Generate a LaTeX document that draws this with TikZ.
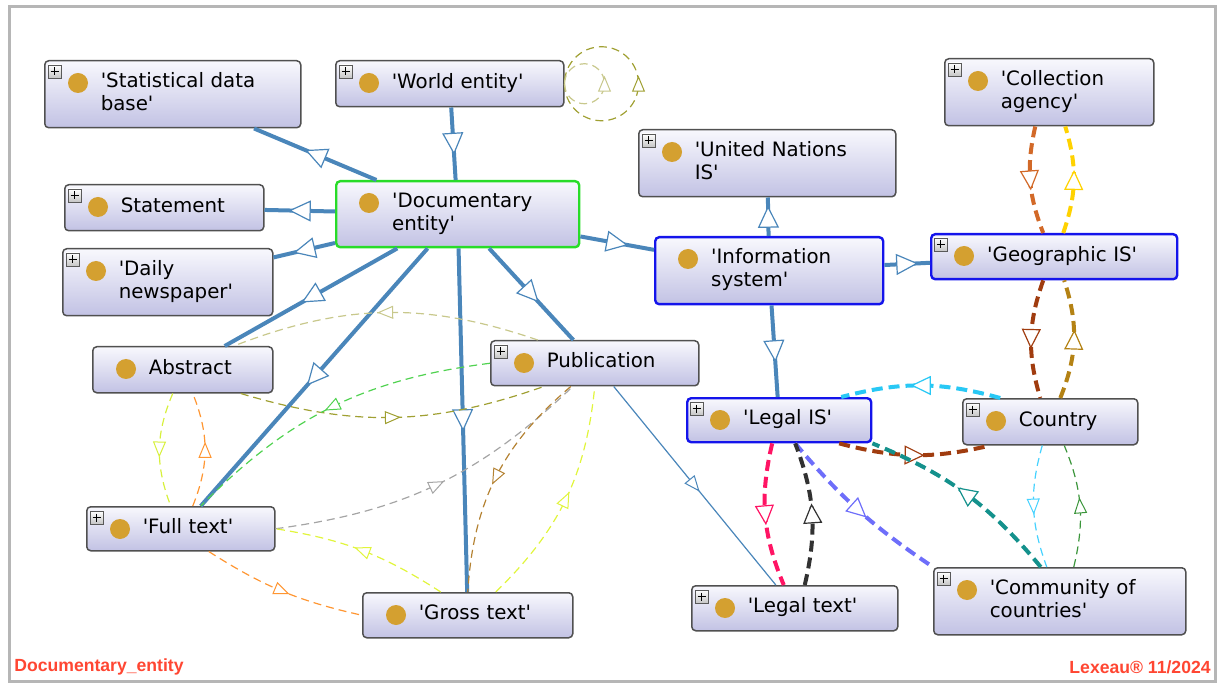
\documentclass[tikz,border=0pt]{standalone}
\usepackage{fontspec}
\newfontfamily\clsfam{DejaVu Sans}
\newfontfamily\footfam{Liberation Sans}
\usetikzlibrary{arrows.meta, decorations.markings}
\definecolor{clsedge}{RGB}{80,80,80}
\definecolor{clstop}{RGB}{248,248,253}
\definecolor{clsbot}{RGB}{194,194,228}
\definecolor{selgreen}{RGB}{40,220,40}
\definecolor{selblue}{RGB}{20,20,235}
\definecolor{dotcol}{RGB}{212,160,48}
\definecolor{isacol}{RGB}{74,134,186}
\definecolor{framecol}{RGB}{182,182,182}
\definecolor{footcol}{RGB}{255,70,50}
\definecolor{ygreen}{RGB}{215,240,60}
\definecolor{lorange}{RGB}{255,150,50}
\definecolor{khaki}{RGB}{200,200,140}
\definecolor{olivec}{RGB}{160,160,50}
\definecolor{lgreen}{RGB}{80,210,80}
\definecolor{lgray}{RGB}{165,165,165}
\definecolor{lyellow}{RGB}{225,245,60}
\definecolor{lbrown}{RGB}{180,130,50}
\definecolor{corange}{RGB}{210,105,40}
\definecolor{cgold}{RGB}{255,210,0}
\definecolor{rbrown}{RGB}{160,60,15}
\definecolor{ochre}{RGB}{180,130,20}
\definecolor{cyanc}{RGB}{40,200,245}
\definecolor{tealc}{RGB}{20,145,140}
\definecolor{slatec}{RGB}{110,110,250}
\definecolor{pinkc}{RGB}{255,20,100}
\definecolor{dgray}{RGB}{50,50,50}
\definecolor{lcyan}{RGB}{70,210,255}
\definecolor{dgreen}{RGB}{60,150,60}
\newcommand\cl[1]{\begin{tabular}{@{\hspace{28pt}}l@{}}#1\end{tabular}}

\begin{document}
\begin{tikzpicture}[x=0.5pt, y=-0.5pt,
  cls/.style={draw=clsedge, line width=0.75pt, rounded corners=2pt, top color=clstop, bottom color=clsbot, anchor=north west, align=left, inner xsep=0pt, font=\clsfam\fontsize{9.9}{11.5}\selectfont},
  docsel/.style={cls, draw=selgreen, line width=1.2pt},
  issel/.style={cls, draw=selblue, line width=1.2pt},
  midtip/.style 2 args={postaction={decorate}, decoration={markings, mark=at position 0.5 with {\pgfsetdash{}{0pt}\pgftransformxshift{#1}\arrow{#2}}}},
  isa/.style={draw=isacol, line width=2pt, midtip={5.5pt}{Triangle[length=11pt, width=10.5pt, fill=white, line width=0.6pt]}},
  isathin/.style={draw=isacol, line width=0.6pt, midtip={4pt}{Triangle[length=8pt, width=6.5pt, fill=white, line width=0.5pt]}},
  rel/.style={draw=#1, line width=0.6pt, dash pattern=on 4pt off 2.5pt, midtip={4pt}{Triangle[length=8pt, width=6.5pt, fill=white, line width=0.5pt]}},
  relb/.style={draw=#1, line width=2pt, dash pattern=on 5.5pt off 3pt, midtip={5pt}{Triangle[length=10pt, width=9.5pt, fill=white, line width=0.6pt]}},
  plusfr/.style={draw=gray!70!black, line width=0.4pt, top color=white, bottom color=gray!45},
  plussg/.style={draw=black, line width=0.5pt},
  footer/.style={text=footcol, font=\footfam\bfseries\fontsize{8.8}{10}\selectfont, inner sep=0pt}]
\useasboundingbox (0,0) rectangle (1218,683);
\draw[framecol, line width=1.5pt] (9,7) rectangle (1215,681);

% classes
\node[cls, text width=128pt, minimum height=33.5pt] (stat) at (44,60) {\cl{'Statistical data\\base'}};
\node[cls, text width=114pt, minimum height=23pt] (world) at (335,60) {\cl{'World entity'}};
\node[docsel, text width=121.5pt, minimum height=33pt] (doc) at (335,180) {\cl{'Documentary\\entity'}};
\node[cls, text width=99.5pt, minimum height=23pt] (stmt) at (64,184) {\cl{Statement}};
\node[cls, text width=105pt, minimum height=33.5pt] (daily) at (62,248) {\cl{'Daily\\newspaper'}};
\node[cls, text width=90pt, minimum height=23pt] (abstr) at (92,346) {\cl{Abstract}};
\node[cls, text width=104pt, minimum height=22.5pt] (pub) at (490,340) {\cl{Publication}};
\node[cls, text width=94pt, minimum height=22pt] (full) at (86,506) {\cl{'Full text'}};
\node[cls, text width=105pt, minimum height=22.5pt] (gross) at (362,592) {\cl{'Gross text'}};
\node[cls, text width=128.5pt, minimum height=33.5pt] (un) at (638,129) {\cl{'United Nations\\IS'}};
\node[issel, text width=114pt, minimum height=33.5pt] (info) at (654,236) {\cl{'Information\\system'}};
\node[issel, text width=123pt, minimum height=22.5pt] (geo) at (930,233) {\cl{'Geographic IS'}};
\node[cls, text width=104.5pt, minimum height=33.5pt] (coll) at (944,58) {\cl{'Collection\\agency'}};
\node[issel, text width=92pt, minimum height=22pt] (legal) at (686,397) {\cl{'Legal IS'}};
\node[cls, text width=87.5pt, minimum height=23pt] (country) at (962,398) {\cl{Country}};
\node[cls, text width=103pt, minimum height=22.5pt] (ltext) at (691,585) {\cl{'Legal text'}};
\node[cls, text width=126pt, minimum height=33.5pt] (comm) at (933,567) {\cl{'Community of\\countries'}};

\foreach \n in {stat,world,doc,stmt,daily,abstr,pub,full,gross,un,info,geo,coll,legal,country,ltext,comm}
  \fill[dotcol] ([shift={(17pt,-11.5pt)}]\n.north west) circle (5pt);
\foreach \n in {stat,world,stmt,daily,pub,full,un,geo,coll,legal,country,ltext,comm} {
  \draw[plusfr] ([shift={(2pt,-2.5pt)}]\n.north west) rectangle ++(6.5pt,-6.5pt);
  \draw[plussg] ([shift={(3.25pt,-5.75pt)}]\n.north west) -- ++(4pt,0pt);
  \draw[plussg] ([shift={(5.25pt,-3.75pt)}]\n.north west) -- ++(0pt,-4pt);
}

% subclass links
\draw[isa] (world) -- (doc);
\draw[isa] (doc) -- (stat);
\draw[isa] (doc) -- (stmt);
\draw[isa] (doc) -- (daily);
\draw[isa] (doc) -- (abstr);
\draw[isa] (doc) -- (full);
\draw[isa] (doc) -- (gross);
\draw[isa] (doc) -- (pub);
\draw[isa] (doc) -- (info);
\draw[isa] (info) -- (un);
\draw[isa] (info) -- (geo);
\draw[isa] (info) -- (legal);
\draw[isathin] (pub) -- (ltext);

% self loops
\draw[rel=olivec] (world.east) arc[start angle=-180, end angle=180, radius=18.5pt];
\draw[rel=khaki] (world.east) arc[start angle=-180, end angle=180, radius=10pt];

% documents
\draw[rel=ygreen] ([xshift=-5pt]abstr.south) to[bend right=22] ([xshift=-5pt]full.north);
\draw[rel=lorange] ([xshift=6pt]full.north) to[bend right=22] ([xshift=5pt]abstr.south);
\draw[rel=khaki] ([xshift=-28.5pt]pub.north) to[bend right=20] ([xshift=25.5pt]abstr.north);
\draw[rel=olivec] ([xshift=29pt]abstr.south) to[bend right=18] ([xshift=-25.5pt]pub.south);
\draw[rel=lgreen] (pub.west) to[bend right=19] ([xshift=10pt]full.north);
\draw[rel=lgray] (full.east) to[bend right=18] ([xshift=-11pt]pub.south);
\draw[rel=lyellow] ([xshift=-13.5pt]gross.north) to[bend right=12] (full.east);
\draw[rel=lorange] ([xshift=14pt]full.south) to[bend right=10] (gross.west);
\draw[rel=lbrown] ([xshift=-12pt]pub.south) to[bend right=23] (gross.north);
\draw[rel=lyellow] ([xshift=14pt]gross.north) to[bend right=20] (pub.south);

% information systems
\draw[relb=corange] ([xshift=-7pt]coll.south) to[bend right=17] ([xshift=-5.5pt]geo.north);
\draw[relb=cgold] ([xshift=4.5pt]geo.north) to[bend right=18] ([xshift=8pt]coll.south);
\draw[relb=rbrown] ([xshift=-5.5pt]geo.south) to[bend right=18] ([xshift=-5pt]country.north);
\draw[relb=ochre] ([xshift=5pt]country.north) to[bend right=20] ([xshift=5pt]geo.south);
\draw[relb=cyanc] ([xshift=-25pt]country.north) to[bend right=15] ([xshift=31pt]legal.north);
\draw[relb=rbrown] ([xshift=30pt]legal.south) to[bend right=14] ([xshift=-30pt]country.south);
\draw[relb=tealc] ([xshift=-9.5pt]comm.north) to[bend right=14] (legal.south east);
\draw[relb=slatec] ([xshift=8pt]legal.south) to[bend right=8] (comm.north west);
\draw[relb=pinkc] ([xshift=-3.5pt]legal.south) to[bend right=18] ([xshift=-5.5pt]ltext.north);
\draw[relb=dgray] ([xshift=5pt]ltext.north) to[bend right=17] ([xshift=8pt]legal.south);
\draw[rel=lcyan] ([xshift=-4pt]country.south) to[bend right=18] ([xshift=-6.5pt]comm.north);
\draw[rel=dgreen] ([xshift=7pt]comm.north) to[bend right=18] ([xshift=7pt]country.south);

% footer
\node[footer, anchor=west] (ftname) at (14,667) {Documentary\_entity};
\node[footer, anchor=east] (ftmark) at (1211,667) {Lexeau® 11/2024};
\end{tikzpicture}
\end{document}
